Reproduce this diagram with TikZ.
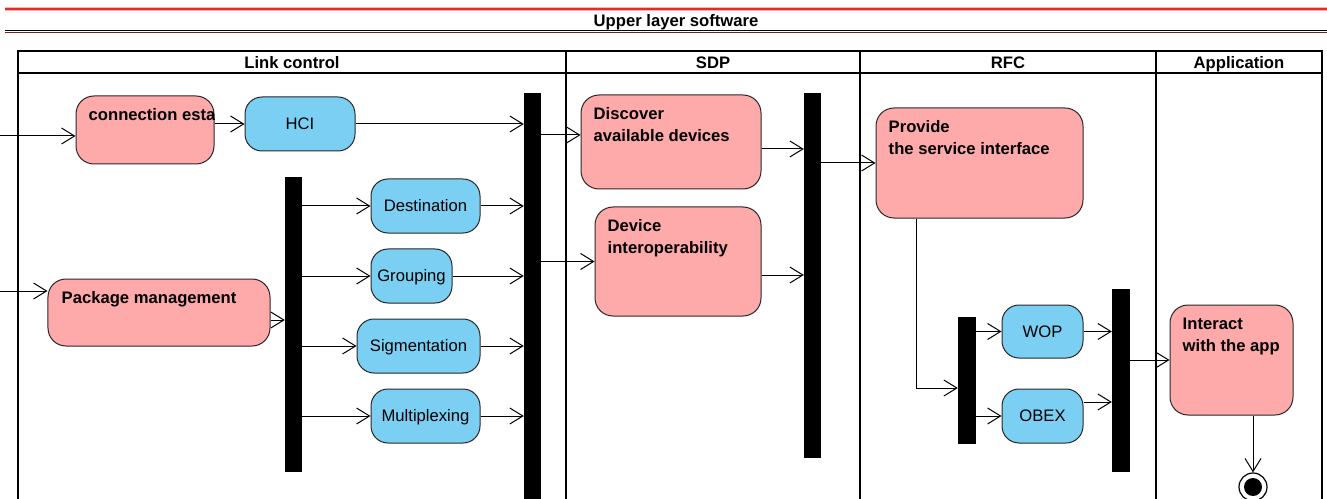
\documentclass[tikz,border=0pt]{standalone}
\usepackage{fontspec}
\setmainfont{Liberation Sans}
\usetikzlibrary{arrows.meta,calc}
\definecolor{pinkfill}{RGB}{255,170,170}
\definecolor{bluefill}{RGB}{122,207,243}
\definecolor{edgecol}{RGB}{40,40,40}
\definecolor{topred}{RGB}{232,40,40}
\definecolor{darkred}{RGB}{120,30,30}
\begin{document}
\begin{tikzpicture}[x=1bp,y=-1bp,
  every node/.style={font=\fontsize{16.7}{22}\selectfont},
  pinkbox/.style={draw=edgecol, line width=1bp, fill=pinkfill, rounded corners=18bp, inner sep=0},
  bluebox/.style={draw=edgecol, line width=1bp, fill=bluefill, rounded corners=17bp, inner sep=0, minimum height=54bp, text height=11.5bp, text depth=0.5bp},
  ptext/.style={anchor=north west, inner sep=0, xshift=13bp, yshift=-13bp, align=left, font=\bfseries\fontsize{16.7}{22}\selectfont},
  barnode/.style={fill=black, draw=none, inner sep=0, minimum width=17bp},
  lanehead/.style={font=\bfseries\fontsize{16.7}{18}\selectfont, inner sep=0, text height=11.5bp, text depth=3.5bp},
  lane/.style={draw=black, line width=2bp},
  arr/.style={draw=black, line width=1bp, -{Straight Barb[length=13bp, width=16bp, line width=1bp]}},
  finalnode/.style={circle, draw=black, line width=1.2bp, fill=white, minimum size=28bp, inner sep=0}
]
\useasboundingbox (0,0) rectangle (1327,499);
\fill[white] (0,0) rectangle (1327,499);

% top band
\draw[topred!35, line width=4.5bp] (5,9) -- (1327,9);
\draw[topred, line width=2bp] (5,9) -- (1327,9);
\draw[black, line width=1.5bp] (5,30.5) -- (1327,30.5);
\draw[darkred, line width=1bp] (5,32.3) -- (1327,32.3);
\node[lanehead] (upper) at (676,22.5) {Upper layer software};

% swimlanes
\draw[lane] (18,520) -- (18,51) -- (1322,51) -- (1322,520);
\draw[lane] (18,73) -- (1322,73);
\draw[lane] (566,51) -- (566,520);
\draw[lane] (860,51) -- (860,520);
\draw[lane] (1156,51) -- (1156,520);
\node[lanehead] (hlink) at (292,65) {Link control};
\node[lanehead] (hsdp) at (713,65) {SDP};
\node[lanehead] (hrfc) at (1008,65) {RFC};
\node[lanehead] (happ) at (1239,65) {Application};

% Link control lane
\node[pinkbox, minimum width=138bp, minimum height=68bp] (conn) at (145,130) {};
\begin{scope}
  \clip[rounded corners=18bp] (conn.south west) rectangle (conn.north east);
  \node[ptext] (conntext) at (conn.north west) {connection esta};
\end{scope}
\node[bluebox, minimum width=110bp] (hci) at (300,124) {HCI};
\node[barnode, minimum height=427bp] (bar1) at (532.5,306.5) {};
\node[barnode, minimum height=295bp] (bar2) at (293.5,324.5) {};
\node[bluebox, minimum width=109bp] (dest) at (425.5,206) {Destination};
\node[bluebox, minimum width=81bp] (grp) at (411.5,276) {Grouping};
\node[bluebox, minimum width=123bp] (sig) at (418.5,346) {Sigmentation};
\node[bluebox, minimum width=109bp] (mux) at (425.5,416) {Multiplexing};
\node[pinkbox, minimum width=222bp, minimum height=67bp,
  label={[ptext, xshift=1bp]north west:{Package management}}] (pkg) at (159,312.5) {};

% SDP lane
\node[pinkbox, minimum width=180bp, minimum height=94bp,
  label={[ptext]north west:{Discover\\available devices}}] (disc) at (671,142) {};
\node[pinkbox, minimum width=166bp, minimum height=109bp,
  label={[ptext]north west:{Device\\interoperability}}] (dev) at (678,261.5) {};
\node[barnode, minimum height=365bp] (bar3) at (812.5,275.5) {};

% RFC lane
\node[pinkbox, minimum width=207bp, minimum height=110bp,
  label={[ptext]north west:{Provide\\the service interface}}] (prov) at (979.5,163) {};
\node[barnode, minimum width=18bp, minimum height=127bp] (bar4) at (967,380.5) {};
\node[bluebox, minimum width=81bp, minimum height=53bp] (wop) at (1042.5,331.5) {WOP};
\node[bluebox, minimum width=81bp] (obex) at (1042.5,416) {OBEX};
\node[barnode, minimum width=18bp, minimum height=183bp] (bar5) at (1121,380.5) {};

% Application lane
\node[pinkbox, minimum width=123bp, minimum height=110bp,
  label={[ptext]north west:{Interact\\with the app}}] (inter) at (1231.5,360) {};
\node[finalnode] (final) at (1253,487) {};
\fill[black] (final) circle (9bp);

% connectors
\coordinate (in1) at (0,136);
\coordinate (in2) at (0,291);
\coordinate (discin) at ([yshift=7bp]disc.west);
\coordinate (discout) at ([yshift=-7bp]disc.east);
\coordinate (devout) at ([yshift=-13.5bp]dev.east);
\coordinate (pkgout) at ([yshift=-7.5bp]pkg.east);
\coordinate (obexout) at ([yshift=14bp]obex.east);
\coordinate (provdown) at ([xshift=-63.5bp]prov.south);
\coordinate (bar4in) at ([yshift=-7.5bp]bar4.west);
\draw[arr] (in1) -- (in1 -| conn.west);
\draw[arr] (conn.east |- hci) -- (hci.west);
\draw[arr] (hci.east) -- (hci -| bar1.west);
\draw[arr] (in2) -- (in2 -| pkg.west);
\draw[arr] (pkgout) -- (pkgout -| bar2.west);
\foreach \b in {dest,grp,sig,mux}{
  \draw[arr] (bar2.east |- \b) -- (\b.west);
  \draw[arr] (\b.east) -- (\b -| bar1.west);
}
\draw[arr] (bar1.east |- discin) -- (discin);
\draw[arr] (bar1.east |- dev) -- (dev.west);
\draw[arr] (discout) -- (discout -| bar3.west);
\draw[arr] (devout) -- (devout -| bar3.west);
\draw[arr] (bar3.east |- prov) -- (prov.west);
\draw[arr] (provdown) |- (bar4in);
\draw[arr] (bar4.east |- wop) -- (wop.west);
\draw[arr] (bar4.east |- obex) -- (obex.west);
\draw[arr] (wop.east) -- (wop -| bar5.west);
\draw[arr] (obexout) -- (obexout -| bar5.west);
\draw[arr] (bar5.east |- inter) -- (inter.west);
\draw[arr] (final |- inter.south) -- (final.north);
\end{tikzpicture}
\end{document}
